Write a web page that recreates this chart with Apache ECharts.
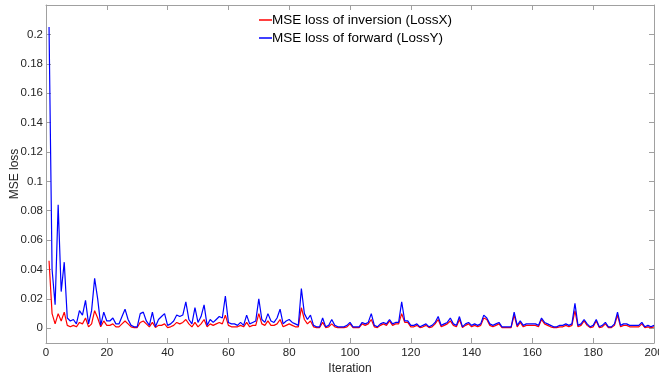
<!DOCTYPE html>
<html>
<head>
<meta charset="utf-8">
<script src="https://cdn.jsdelivr.net/npm/echarts@6/dist/echarts.min.js"></script>
<style>html,body{margin:0;padding:0;background:#fff;}#c{width:659px;height:374px;}</style>
</head>
<body>
<div id="c"></div>
<script>
const seriesNames = ['MSE loss of inversion (LossX)', 'MSE loss of forward (LossY)'];
const xTicks = [0, 20, 40, 60, 80, 100, 120, 140, 160, 180, 200];
const yTicks = [0, 0.02, 0.04, 0.06, 0.08, 0.1, 0.12, 0.14, 0.16, 0.18, 0.2];

const lossX = [
0.046,0.010,0.003,0.010,0.005,0.011,0.002,0.001,0.002,0.001,
0.004,0.003,0.007,0.001,0.003,0.012,0.007,0.001,0.005,0.002,
0.002,0.003,0.001,0.001,0.003,0.005,0.003,0.001,0.0005,0.0005,
0.004,0.005,0.003,0.001,0.004,0.0005,0.002,0.002,0.003,0.0005,
0.001,0.002,0.004,0.003,0.004,0.006,0.003,0.001,0.004,0.001,
0.003,0.006,0.001,0.003,0.002,0.003,0.004,0.003,0.009,0.002,
0.001,0.001,0.001,0.002,0.001,0.004,0.001,0.002,0.002,0.010,
0.003,0.002,0.005,0.002,0.002,0.003,0.006,0.001,0.002,0.003,
0.002,0.001,0.001,0.014,0.006,0.003,0.005,0.001,0.0005,0.0005,
0.004,0.0005,0.001,0.003,0.001,0.0005,0.0005,0.0005,0.001,0.003,
0.0005,0.0005,0.0005,0.003,0.002,0.003,0.006,0.001,0.0005,0.002,
0.003,0.002,0.005,0.002,0.003,0.003,0.010,0.004,0.004,0.001,
0.001,0.002,0.0005,0.001,0.002,0.0005,0.001,0.003,0.006,0.001,
0.002,0.003,0.005,0.002,0.001,0.006,0.0005,0.002,0.003,0.001,
0.002,0.001,0.002,0.007,0.006,0.002,0.001,0.002,0.003,0.0005,
0.0005,0.0005,0.0005,0.009,0.001,0.004,0.001,0.002,0.002,0.002,
0.002,0.001,0.006,0.003,0.002,0.001,0.0005,0.0005,0.001,0.001,
0.002,0.001,0.002,0.012,0.001,0.002,0.005,0.002,0.0005,0.001,
0.005,0.0005,0.001,0.003,0.0005,0.0005,0.002,0.009,0.001,0.002,
0.002,0.001,0.001,0.001,0.001,0.003,0.0005,0.001,0.0005,0.001
];

const lossY = [
0.205,0.040,0.016,0.084,0.025,0.045,0.007,0.005,0.006,0.003,
0.012,0.009,0.019,0.003,0.012,0.034,0.020,0.002,0.011,0.005,
0.005,0.007,0.003,0.003,0.008,0.013,0.006,0.002,0.001,0.001,
0.010,0.011,0.005,0.002,0.011,0.001,0.006,0.008,0.010,0.002,
0.003,0.005,0.009,0.008,0.009,0.018,0.006,0.003,0.014,0.004,
0.008,0.016,0.002,0.006,0.004,0.006,0.008,0.007,0.022,0.004,
0.003,0.003,0.002,0.004,0.002,0.009,0.003,0.004,0.005,0.020,
0.006,0.004,0.010,0.005,0.004,0.007,0.013,0.003,0.005,0.006,
0.004,0.003,0.002,0.027,0.010,0.006,0.009,0.002,0.001,0.001,
0.007,0.001,0.002,0.006,0.002,0.001,0.001,0.001,0.002,0.004,
0.001,0.001,0.001,0.004,0.003,0.004,0.010,0.002,0.001,0.003,
0.004,0.003,0.006,0.003,0.004,0.004,0.018,0.005,0.005,0.002,
0.002,0.003,0.001,0.002,0.003,0.001,0.002,0.004,0.008,0.002,
0.003,0.004,0.007,0.003,0.002,0.008,0.001,0.003,0.004,0.002,
0.003,0.002,0.003,0.009,0.007,0.003,0.002,0.003,0.004,0.001,
0.001,0.001,0.001,0.011,0.002,0.005,0.002,0.003,0.003,0.003,
0.003,0.002,0.007,0.004,0.003,0.002,0.001,0.001,0.002,0.002,
0.003,0.002,0.003,0.017,0.002,0.003,0.006,0.003,0.001,0.002,
0.006,0.001,0.002,0.004,0.001,0.001,0.003,0.011,0.002,0.003,
0.003,0.002,0.002,0.002,0.002,0.004,0.001,0.002,0.001,0.002
];

const iterations = lossY.map((_, k) => k + 1);

const font = 'Liberation Sans, Arial, Helvetica, sans-serif';
const axisColor = '#a0a0a0';
const textColor = '#262626';

const chart = echarts.init(document.getElementById('c'), null, {renderer: 'canvas'});
chart.setOption({
  animation: false,
  backgroundColor: '#fff',
  textStyle: {fontFamily: font},
  grid: {left: 46, right: 5, top: 5, bottom: 31, containLabel: false, outerBoundsMode: 'none'},
  legend: {
    orient: 'vertical',
    left: 254,
    top: 8,
    itemGap: 4,
    itemWidth: 13,
    itemHeight: 1.5,
    icon: 'rect',
    textStyle: {fontFamily: font, fontSize: 13.5, color: '#000', padding: [0, 0, 0, -5]},
    data: seriesNames
  },
  xAxis: [{
    type: 'value', min: 0, max: 200, interval: 20,
    name: 'Iteration', nameLocation: 'middle', nameGap: 20, nameMoveOverlap: false,
    nameTextStyle: {fontFamily: font, fontSize: 12, color: textColor},
    axisLine: {show: true, onZero: false, lineStyle: {color: axisColor, width: 1}},
    axisTick: {show: true, inside: true, length: 5, lineStyle: {color: axisColor}},
    axisLabel: {fontFamily: font, fontSize: 11.5, color: textColor, margin: 4,
      customValues: xTicks},
    splitLine: {show: false}
  }, {
    type: 'value', min: 0, max: 200, interval: 20, position: 'top',
    axisLine: {show: true, onZero: false, lineStyle: {color: axisColor, width: 1}},
    axisTick: {show: true, inside: true, length: 5, lineStyle: {color: axisColor}},
    axisLabel: {show: false},
    splitLine: {show: false}
  }],
  yAxis: [{
    type: 'value', min: -0.01, max: 0.22,
    name: 'MSE loss', nameLocation: 'middle', nameGap: 25, nameMoveOverlap: false,
    nameTextStyle: {fontFamily: font, fontSize: 12, color: textColor},
    axisLine: {show: true, onZero: false, lineStyle: {color: axisColor, width: 1}},
    axisTick: {show: true, inside: true, length: 5, customValues: yTicks, lineStyle: {color: axisColor}},
    axisLabel: {fontFamily: font, fontSize: 11.5, color: textColor, margin: 3,
      customValues: yTicks,
      formatter: v => String(parseFloat(v.toFixed(2)))},
    splitLine: {show: false}
  }, {
    type: 'value', min: -0.01, max: 0.22, position: 'right',
    axisLine: {show: true, onZero: false, lineStyle: {color: axisColor, width: 1}},
    axisTick: {show: true, inside: true, length: 5, customValues: yTicks, lineStyle: {color: axisColor}},
    axisLabel: {show: false},
    splitLine: {show: false}
  }],
  series: [{
    name: seriesNames[0], type: 'line', xAxisIndex: 0, yAxisIndex: 0,
    data: iterations.map((it, k) => [it, lossX[k]]),
    symbol: 'none', lineStyle: {color: '#ff0000', width: 1.2}, itemStyle: {color: '#ff0000'}
  }, {
    name: seriesNames[1], type: 'line', xAxisIndex: 0, yAxisIndex: 0,
    data: iterations.map((it, k) => [it, lossY[k]]),
    symbol: 'none', lineStyle: {color: '#0000ff', width: 1.2}, itemStyle: {color: '#0000ff'}
  }]
});
</script>
</body>
</html>
